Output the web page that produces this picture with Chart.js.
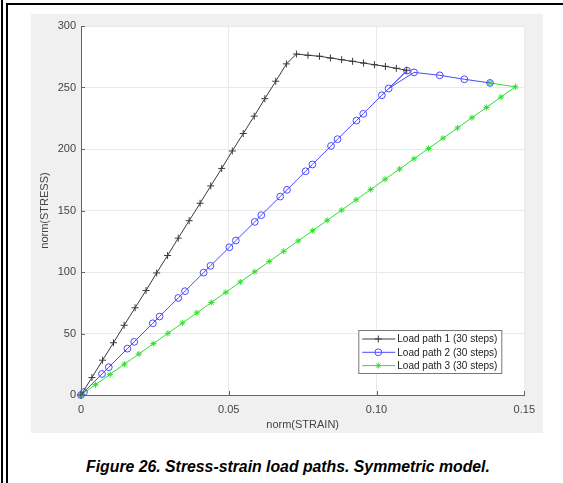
<!DOCTYPE html>
<html>
<head>
<meta charset="utf-8">
<script src="https://cdn.jsdelivr.net/npm/chart.js@4.4.1/dist/chart.umd.min.js"></script>
<style>
  html, body { margin: 0; padding: 0; background: #fff; }
  body { width: 563px; height: 483px; position: relative; overflow: hidden; font-family: "Liberation Sans", Arial, sans-serif; }
  .rule-outer { position: absolute; left: 1px; top: 0; width: 2px; height: 483px; background: #000; }
  .rule-box { position: absolute; left: 6px; top: 3px; width: 600px; height: 600px; border-left: 2px solid #000; border-top: 2px solid #000; }
  .figure { position: absolute; left: 31px; top: 14px; width: 512px; height: 419px; background: #f0f0f0; }
  .caption { position: absolute; left: 0; top: 458px; width: 576px; text-align: center; font: italic bold 15.8px "Liberation Sans", Arial, sans-serif; line-height: 18px; color: #000; }
</style>
</head>
<body>
<div class="rule-outer"></div>
<div class="rule-box"></div>
<div class="figure"><canvas id="loadPaths" width="512" height="419"></canvas></div>
<div class="caption">Figure 26. Stress-strain load paths. Symmetric model.</div>

<script>
// Load path 1: linear up to the peak, then softening
const path1Strain = [0, 0.0037, 0.0073, 0.0110, 0.0146, 0.0183, 0.0220, 0.0256, 0.0293, 0.0329, 0.0366,
  0.0403, 0.0439, 0.0476, 0.0512, 0.0549, 0.0586, 0.0622, 0.0659, 0.0695, 0.0729,
  0.0768, 0.0807, 0.0844, 0.0882, 0.0919, 0.0956, 0.0993, 0.1030, 0.1067, 0.1102];
const path1Stress = [0, 14.2, 28.3, 42.5, 56.7, 70.9, 85.0, 99.2, 113.4, 127.5, 141.7,
  155.9, 170.0, 184.2, 198.4, 212.6, 226.7, 240.9, 255.1, 269.2, 277.2,
  276.2, 275.4, 274.0, 272.6, 271.3, 269.9, 268.5, 267.2, 265.6, 264.0];

// Load path 2
const path2Strain = [0, 0.0010, 0.0071, 0.0094, 0.0157, 0.0180, 0.0243, 0.0266, 0.0329, 0.0352,
  0.0415, 0.0438, 0.0502, 0.0524, 0.0588, 0.0610, 0.0674, 0.0697, 0.0760, 0.0783,
  0.0846, 0.0868, 0.0932, 0.0955, 0.1018, 0.1103, 0.1041, 0.1127, 0.1214, 0.1297, 0.1384];
const path2Stress = [0, 2.4, 17.1, 22.6, 37.7, 43.2, 58.3, 63.8, 78.9, 84.4,
  99.5, 105.0, 120.1, 125.6, 140.7, 146.2, 161.3, 166.8, 181.9, 187.4,
  202.5, 208.0, 223.1, 228.6, 243.7, 263.7, 249.2, 262.3, 259.9, 256.7, 253.7];

// Load path 3
const path3Strain = [0, 0.0049, 0.0098, 0.0147, 0.0196, 0.0245, 0.0294, 0.0343, 0.0392, 0.0441, 0.0490,
  0.0539, 0.0588, 0.0637, 0.0686, 0.0735, 0.0784, 0.0833, 0.0882, 0.0931, 0.0980,
  0.1029, 0.1078, 0.1127, 0.1176, 0.1225, 0.1274, 0.1323, 0.1372, 0.1421, 0.1470, 0.1384];
const path3Stress = [0, 8.4, 16.7, 25.1, 33.4, 41.8, 50.1, 58.5, 66.8, 75.2, 83.5,
  91.9, 100.2, 108.6, 116.9, 125.3, 133.6, 142.0, 150.3, 158.7, 167.0,
  175.4, 183.7, 192.1, 200.4, 208.8, 217.1, 225.5, 233.8, 242.2, 250.5, 253.7];

const seriesLabels = ["Load path 1 (30 steps)", "Load path 2 (30 steps)", "Load path 3 (30 steps)"];
const strainTicks = [0, 0.05, 0.1, 0.15];
const stressTicks = [0, 50, 100, 150, 200, 250, 300];

const FONT = "'Liberation Sans', Arial, sans-serif";

function pairUp(xs, ys) {
  return xs.map((x, i) => ({ x: x, y: ys[i] }));
}

// white axes background inside the grey figure
const plotBackground = {
  id: "plotBackground",
  beforeDraw(chart) {
    const { ctx, chartArea } = chart;
    ctx.save();
    ctx.fillStyle = "#fff";
    ctx.fillRect(chartArea.left, chartArea.top, chartArea.right - chartArea.left, chartArea.bottom - chartArea.top);
    ctx.restore();
  }
};

// MATLAB-style inward tick marks on the left and bottom axes
const inwardTicks = {
  id: "inwardTicks",
  afterDraw(chart) {
    const { ctx, chartArea, scales } = chart;
    ctx.save();
    ctx.strokeStyle = "#666";
    ctx.lineWidth = 1;
    ctx.beginPath();
    stressTicks.forEach(v => {
      const y = Math.round(scales.y.getPixelForValue(v)) + 0.5;
      ctx.moveTo(chartArea.left, y);
      ctx.lineTo(chartArea.left + 4, y);
    });
    strainTicks.forEach(v => {
      const x = Math.round(scales.x.getPixelForValue(v)) + 0.5;
      ctx.moveTo(x, chartArea.bottom);
      ctx.lineTo(x, chartArea.bottom - 4);
    });
    ctx.stroke();
    ctx.restore();
  }
};

// legend box in the lower right, line sample with marker
const legendBox = {
  id: "legendBox",
  afterDraw(chart) {
    const { ctx, chartArea } = chart;
    const x0 = chartArea.right - 166, y0 = chartArea.bottom - 65;
    const w = 143, h = 43;
    ctx.save();
    ctx.fillStyle = "#fff";
    ctx.fillRect(x0, y0, w, h);
    ctx.strokeStyle = "#777";
    ctx.lineWidth = 1;
    ctx.strokeRect(x0 + 0.5, y0 + 0.5, w, h);
    chart.data.datasets.forEach((ds, i) => {
      const cy = y0 + 9 + i * 13.3;
      ctx.strokeStyle = ds.borderColor;
      ctx.lineWidth = 1;
      ctx.beginPath();
      ctx.moveTo(x0 + 4, cy);
      ctx.lineTo(x0 + 37, cy);
      ctx.stroke();
      ctx.fillStyle = "rgba(0,0,0,0)";
      Chart.helpers.drawPoint(ctx, {
        pointStyle: ds.pointStyle, radius: ds.pointRadius, rotation: 0, borderWidth: 1
      }, x0 + 20, cy);
      ctx.fillStyle = "#222";
      ctx.font = "10px " + FONT;
      ctx.textBaseline = "middle";
      ctx.fillText(ds.label, x0 + 39, cy + 0.5);
    });
    ctx.restore();
  }
};

const ctxPaths = document.getElementById("loadPaths").getContext("2d");
new Chart(ctxPaths, {
  type: "line",
  data: {
    datasets: [{
      label: seriesLabels[0],
      data: pairUp(path1Strain, path1Stress),
      borderColor: "#3a3a3a",
      pointBorderColor: "#3a3a3a",
      backgroundColor: "rgba(0,0,0,0)",
      pointStyle: "cross",
      pointRadius: 3.5,
      borderWidth: 1,
      pointBorderWidth: 1
    }, {
      label: seriesLabels[1],
      data: pairUp(path2Strain, path2Stress),
      borderColor: "#4b4bff",
      pointBorderColor: "#4b4bff",
      backgroundColor: "rgba(0,0,0,0)",
      pointStyle: "circle",
      pointRadius: 3.4,
      borderWidth: 1,
      pointBorderWidth: 1
    }, {
      label: seriesLabels[2],
      data: pairUp(path3Strain, path3Stress),
      borderColor: "#2fe02f",
      pointBorderColor: "#2fe02f",
      backgroundColor: "#2fe02f",
      pointStyle: "star",
      pointRadius: 3,
      borderWidth: 1,
      pointBorderWidth: 1
    }]
  },
  options: {
    responsive: false,
    animation: false,
    layout: { padding: { top: 12, right: 13, left: 0, bottom: 0 } },
    elements: { line: { tension: 0 } },
    datasets: { line: { clip: false } },
    plugins: {
      legend: { display: false },
      tooltip: { enabled: false }
    },
    scales: {
      x: {
        type: "linear",
        min: 0,
        max: 0.15,
        afterBuildTicks: s => { s.ticks = strainTicks.map(v => ({ value: v })); },
        afterFit: s => { s.height = 38; },
        grid: { color: "#e9e9e9", drawTicks: false },
        border: { color: "#666", width: 1 },
        ticks: { color: "#444", padding: 8, font: { family: FONT, size: 11 }, maxRotation: 0 },
        title: { display: true, text: "norm(STRAIN)", color: "#444", padding: { top: 0, bottom: 1.4 }, font: { family: FONT, size: 11 } }
      },
      y: {
        type: "linear",
        min: 0,
        max: 300,
        afterBuildTicks: s => { s.ticks = stressTicks.map(v => ({ value: v })); },
        afterFit: s => { s.width = 50; },
        grid: { color: "#e9e9e9", drawTicks: false },
        border: { color: "#666", width: 1 },
        ticks: { color: "#444", padding: 5, font: { family: FONT, size: 11 } },
        title: { display: true, text: "norm(STRESS)", color: "#444", padding: { top: 7, bottom: 0 }, font: { family: FONT, size: 11 } }
      }
    }
  },
  plugins: [plotBackground, inwardTicks, legendBox]
});
</script>
</body>
</html>
